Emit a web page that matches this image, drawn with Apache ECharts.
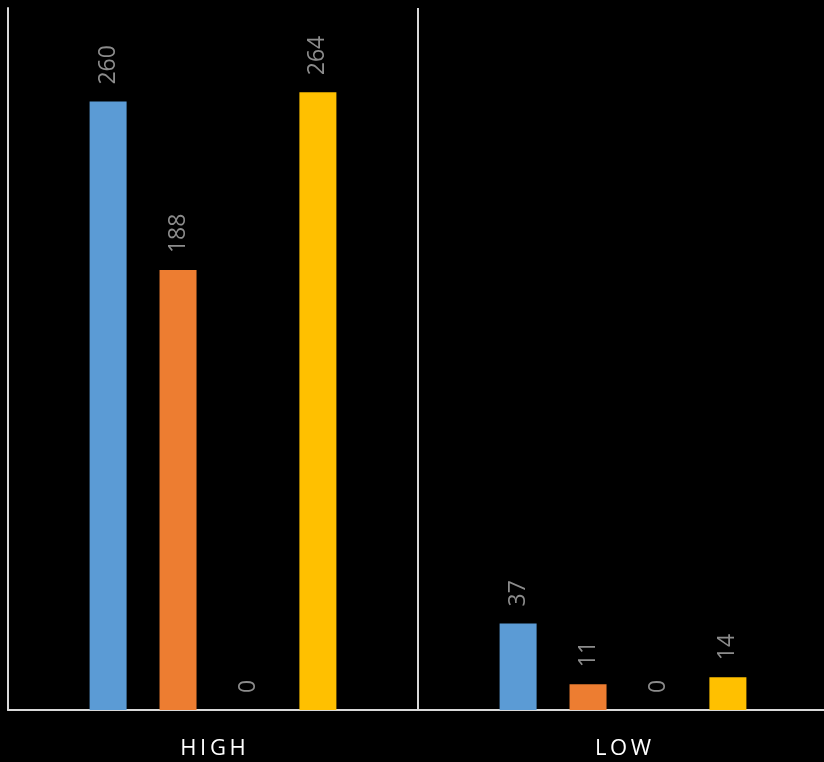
<!DOCTYPE html>
<html>
<head>
<meta charset="utf-8">
<style>
  html, body { margin: 0; padding: 0; background: #000; }
  #chart { width: 824px; height: 762px; }
</style>
<script src="https://cdn.jsdelivr.net/npm/echarts@6/dist/echarts.min.js"></script>
</head>
<body>
<div id="chart"></div>
<script>
// Categories and values for each of the four series
const categories = ['HIGH', 'LOW'];
const seriesBlue = [260, 37];
const seriesOrange = [188, 11];
const seriesGray = [0, 0];
const seriesGold = [264, 14];

const chart = echarts.init(document.getElementById('chart'));

const valueLabel = {
  show: true,
  position: 'top',
  rotate: 90,
  align: 'left',
  verticalAlign: 'middle',
  distance: 17,
  color: '#8c8c8c',
  fontFamily: 'Open Sans',
  fontSize: 23
};

function bar(name, data, color) {
  return {
    name: name,
    type: 'bar',
    data: data,
    barWidth: 37,
    barGap: '89%',
    itemStyle: { color: color },
    label: valueLabel
  };
}

chart.setOption({
  backgroundColor: '#000000',
  animation: false,
  // plot area runs past the right edge of the canvas
  grid: {
    left: 8, width: 820, top: 8, bottom: 52,
    containLabel: false,
    outerBoundsMode: 'none'
  },
  xAxis: {
    type: 'category',
    data: categories,
    axisLine: { show: true, lineStyle: { color: '#d9d9d9', width: 2 } },
    axisTick: { show: false },
    splitLine: { show: true, lineStyle: { color: '#d9d9d9', width: 2 } },
    axisLabel: {
      color: '#ffffff',
      fontFamily: 'Open Sans',
      fontSize: 22,
      margin: 28,
      formatter: v => v.split('').join('\u2009')
    }
  },
  yAxis: {
    type: 'value',
    min: 0,
    max: 300,
    axisLine: { show: true, lineStyle: { color: '#d9d9d9', width: 2 } },
    axisTick: { show: false },
    axisLabel: { show: false },
    splitLine: { show: false }
  },
  series: [
    bar('Blue', seriesBlue, '#5b9bd5'),
    bar('Orange', seriesOrange, '#ed7d31'),
    bar('Gray', seriesGray, '#a5a5a5'),
    bar('Gold', seriesGold, '#ffc000')
  ]
});
</script>
</body>
</html>
